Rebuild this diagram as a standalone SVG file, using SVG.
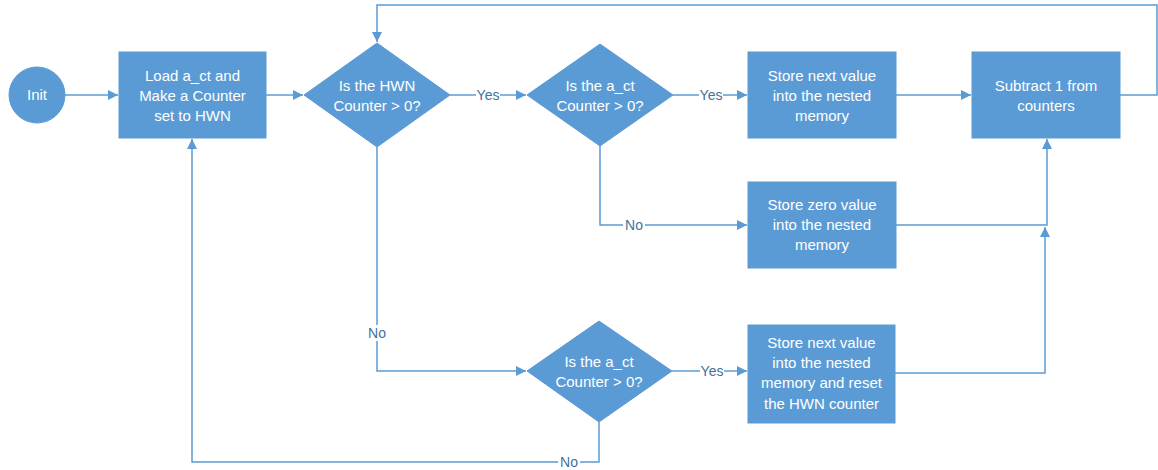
<svg xmlns="http://www.w3.org/2000/svg" width="1158" height="470" viewBox="0 0 1158 470">
  <style>
    .shape { fill: #5B9BD5; stroke: #5B9BD5; stroke-width: 1; }
    .txt { font-family: "Liberation Sans", Arial, sans-serif; font-size: 15px; fill: #FFFFFF; text-anchor: middle; }
    .wire { fill: none; stroke: #5B9BD5; stroke-width: 1.5; }
    .lbl { font-family: "Liberation Sans", Arial, sans-serif; font-size: 14px; fill: #41719C; text-anchor: middle; }
    .lblbg { fill: #FFFFFF; }
  </style>
  <defs>
    <marker id="arrow" viewBox="0 0 10 10" refX="10" refY="5" markerWidth="10" markerHeight="10" markerUnits="userSpaceOnUse" orient="auto">
      <path d="M0,0 L10,5 L0,10 Z" fill="#5B9BD5"/>
    </marker>
  </defs>
  <rect width="1158" height="470" fill="#FFFFFF"/>

  <!-- connectors -->
  <g id="connectors">
    <path class="wire" d="M65,95 H118" marker-end="url(#arrow)"/>
    <path class="wire" d="M266,95 H303" marker-end="url(#arrow)"/>
    <path class="wire" d="M450,95 H526" marker-end="url(#arrow)"/>
    <path class="wire" d="M673,95 H747" marker-end="url(#arrow)"/>
    <path class="wire" d="M896,95 H971" marker-end="url(#arrow)"/>
    <path class="wire" d="M1120,95 H1157 V5 H377 V42" marker-end="url(#arrow)"/>
    <path class="wire" d="M600,146 V225 H747" marker-end="url(#arrow)"/>
    <path class="wire" d="M896,225 H1047 V139" marker-end="url(#arrow)"/>
    <path class="wire" d="M377,147 V371 H526" marker-end="url(#arrow)"/>
    <path class="wire" d="M672,371 H747" marker-end="url(#arrow)"/>
    <path class="wire" d="M895,373 H1045 V227" marker-end="url(#arrow)"/>
    <path class="wire" d="M599,422 V462 H192 V139" marker-end="url(#arrow)"/>

    <!-- branch labels -->
    <rect class="lblbg" x="476" y="87" width="24" height="16"/>
    <text class="lbl" x="488" y="100">Yes</text>
    <rect class="lblbg" x="699" y="87" width="24" height="16"/>
    <text class="lbl" x="711" y="100">Yes</text>
    <rect class="lblbg" x="623" y="217" width="22" height="16"/>
    <text class="lbl" x="634" y="230">No</text>
    <rect class="lblbg" x="366" y="325" width="22" height="16"/>
    <text class="lbl" x="377" y="338">No</text>
    <rect class="lblbg" x="700" y="363" width="24" height="16"/>
    <text class="lbl" x="712" y="376">Yes</text>
    <rect class="lblbg" x="558" y="454" width="22" height="16"/>
    <text class="lbl" x="569" y="467">No</text>
  </g>

  <!-- nodes -->
  <g id="init">
    <circle class="shape" cx="37" cy="95" r="28"/>
    <text class="txt" x="37" y="100">Init</text>
  </g>

  <g id="load">
    <rect class="shape" x="119" y="52" width="147" height="86"/>
    <text class="txt" x="192.5" y="81">Load a_ct and</text>
    <text class="txt" x="192.5" y="101">Make a Counter</text>
    <text class="txt" x="192.5" y="121">set to HWN</text>
  </g>

  <g id="hwn-check">
    <polygon class="shape" points="304,95 377,43 450,95 377,147"/>
    <text class="txt" x="377" y="91">Is the HWN</text>
    <text class="txt" x="377" y="111">Counter &gt; 0?</text>
  </g>

  <g id="act-check-top">
    <polygon class="shape" points="527,95 600,44 673,95 600,146"/>
    <text class="txt" x="600" y="91">Is the a_ct</text>
    <text class="txt" x="600" y="111">Counter &gt; 0?</text>
  </g>

  <g id="store-next">
    <rect class="shape" x="748" y="52" width="148" height="86"/>
    <text class="txt" x="822" y="81">Store next value</text>
    <text class="txt" x="822" y="101">into the nested</text>
    <text class="txt" x="822" y="121">memory</text>
  </g>

  <g id="subtract">
    <rect class="shape" x="972" y="52" width="148" height="86"/>
    <text class="txt" x="1046" y="91">Subtract 1 from</text>
    <text class="txt" x="1046" y="111">counters</text>
  </g>

  <g id="store-zero">
    <rect class="shape" x="748" y="182" width="148" height="86"/>
    <text class="txt" x="822" y="210">Store zero value</text>
    <text class="txt" x="822" y="230">into the nested</text>
    <text class="txt" x="822" y="250">memory</text>
  </g>

  <g id="act-check-bottom">
    <polygon class="shape" points="527,371 599,321 672,371 599,422"/>
    <text class="txt" x="599" y="367">Is the a_ct</text>
    <text class="txt" x="599" y="387">Counter &gt; 0?</text>
  </g>

  <g id="store-reset">
    <rect class="shape" x="748" y="325" width="147" height="98"/>
    <text class="txt" x="821.5" y="348">Store next value</text>
    <text class="txt" x="821.5" y="368">into the nested</text>
    <text class="txt" x="821.5" y="388">memory and reset</text>
    <text class="txt" x="821.5" y="409">the HWN counter</text>
  </g>
</svg>
